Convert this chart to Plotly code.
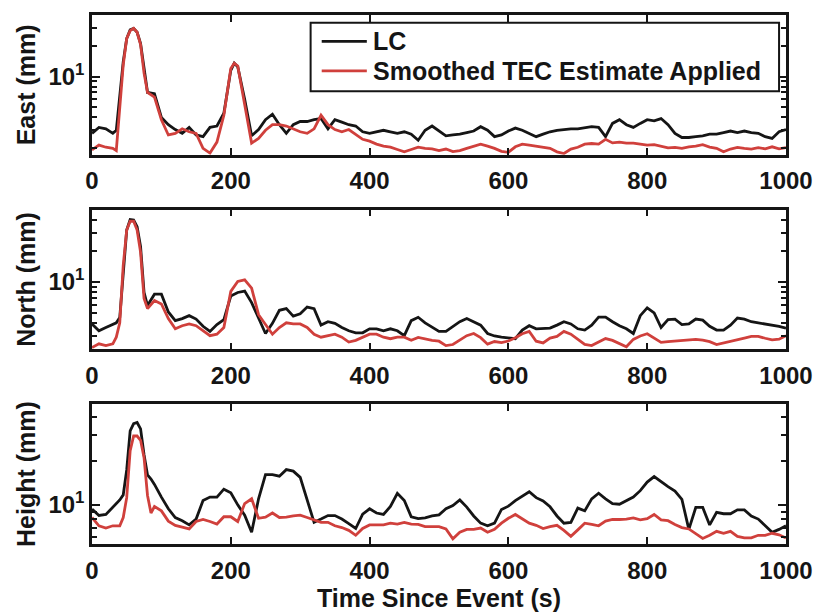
import plotly.graph_objects as go

# ---------------- data (mm) ----------------
t_tail = list(range(470, 1001, 10))

t_east = [0, 10, 20, 30, 35, 40, 45, 50, 55, 60, 65, 70, 75, 80, 90, 100, 110, 120, 130, 140, 150,
          160, 170, 180, 190, 200, 205, 210] + list(range(220, 461, 10)) + t_tail
east_lc = [2.8, 3.2, 3.1, 2.8, 3.0, 6.8, 14, 23.5, 28.5, 29.5, 27, 21, 11.5, 7, 6.8, 4.0, 3.4, 3.05, 2.8, 3.2, 2.7,
           2.6, 3.2, 3.3, 4.4, 11.5, 13.5, 12.5,
           6, 2.65, 3.05, 3.8, 4.3, 3.4, 2.8, 3.4, 3.65, 3.65, 3.8, 3.9, 3.1, 3.8, 3.6, 3.4, 3.3, 2.9, 2.8, 2.9, 3.0,
           2.9, 2.8, 2.9, 2.75,
           2.4, 3.0, 3.3, 2.97, 2.65, 2.7, 2.75, 2.85, 2.95, 3.25, 3.0, 2.6, 2.7, 2.95, 3.15, 3.0, 2.8, 2.6, 2.75,
           2.9, 3.0, 3.05, 3.1, 3.1, 3.2, 3.25, 3.2, 2.6, 3.5, 3.8, 3.4, 3.2, 3.5, 3.8, 3.7, 3.9, 3.4, 2.8, 2.55,
           2.55, 2.6, 2.65, 2.75, 2.75, 2.85, 2.95, 2.85, 2.95, 2.85, 2.8, 2.6, 2.5, 2.9, 3.05]
east_tec = [1.93, 2.15, 2.05, 2.0, 1.9, 5.5, 13, 23.5, 28, 29.5, 27, 20.5, 10.8, 7, 6.3, 3.8, 2.7, 2.8, 3.1, 2.9, 2.8,
            2.0, 1.8, 2.3, 4.2, 12, 13.5, 12.7,
            5.5, 2.25, 2.5, 3.0, 3.4, 3.4, 3.3, 3.1, 2.9, 2.8, 3.1, 4.2, 3.4, 3.05, 2.9, 3.05, 2.75, 2.45, 2.35, 2.2,
            2.1, 2.05, 1.95, 1.85, 1.95,
            2.05, 2.0, 1.98, 1.9, 1.97, 1.86, 1.9, 2.0, 2.1, 2.2, 2.1, 2.0, 1.87, 1.83, 2.07, 2.2, 2.15, 2.1, 2.07,
            2.0, 1.85, 1.78, 1.97, 2.05, 2.2, 2.23, 2.2, 2.45, 2.26, 2.3, 2.25, 2.25, 2.2, 2.15, 2.17, 2.08, 2.02,
            2.04, 2.0, 2.07, 2.1, 2.17, 2.06, 2.0, 1.85, 1.97, 2.04, 2.0, 1.97, 2.03, 1.98, 2.07, 1.98, 2.03]

t_north = [0, 10, 20, 30, 35, 40, 45, 50, 55, 60, 65, 70, 75, 80] + list(range(90, 461, 10)) + t_tail
north_lc = [3.9, 3.35, 3.6, 3.9, 4.0, 4.5, 11.5, 32, 40.5, 40, 34.5, 22, 7.9, 5.9,
            7.6, 7.6, 5.1, 4.2, 4.4, 4.7, 4.35, 3.7, 3.3, 3.85, 4.3, 7.3, 7.9, 8.15, 6.3, 4.4, 3.15, 3.95, 5.3,
            5.5, 4.65, 4.9, 5.7, 5.5, 3.8, 4.1, 3.95, 3.6, 3.35, 3.2, 3.2, 3.5, 3.5, 3.35, 3.5, 3.35, 3.0, 4.2,
            4.53, 4.0, 3.6, 3.3, 3.3, 3.65, 4.1, 4.4, 4.1, 3.8, 3.15, 2.98, 2.9, 2.85, 2.8, 3.4, 3.75, 3.5, 3.5,
            3.55, 3.8, 4.1, 3.9, 3.5, 3.4, 3.8, 4.55, 4.55, 4.1, 3.75, 3.5, 3.15, 4.7, 5.6, 5.0, 3.6, 4.3, 4.35,
            3.85, 3.9, 4.35, 4.25, 3.7, 3.4, 3.4, 3.8, 4.45, 4.35, 4.1, 4.0, 3.9, 3.8, 3.7, 3.55]
north_tec = [2.3, 2.5, 2.4, 2.5, 2.9, 4.0, 14.5, 32, 39, 39, 32, 19.4, 6.9, 5.5,
             6.6, 6.1, 4.4, 3.5, 3.75, 3.9, 3.75, 3.35, 3.0, 3.1, 3.6, 8.1, 10.1, 10.5, 8.7, 4.8, 3.9, 3.1, 3.6,
             4.0, 3.9, 3.9, 3.6, 3.1, 2.9, 3.0, 3.1, 2.9, 2.6, 2.7, 2.9, 3.1, 3.1, 2.9, 2.8, 2.9, 2.9, 2.71,
             2.88, 2.77, 2.7, 2.65, 2.4, 2.46, 2.72, 3.0, 3.15, 2.87, 2.48, 2.63, 2.57, 2.66, 2.86, 3.13, 3.3,
             2.65, 2.55, 2.84, 2.95, 3.3, 3.1, 2.78, 2.47, 2.4, 2.58, 2.81, 2.7, 2.52, 2.34, 2.76, 2.98, 3.13,
             2.83, 2.58, 2.63, 2.67, 2.67, 2.72, 2.76, 2.71, 2.62, 2.46, 2.56, 2.65, 2.74, 2.84, 2.95, 2.95,
             2.83, 2.73, 2.77, 3.0]

t_height = [0, 10, 20, 30, 40, 45, 50, 55, 60, 65, 70, 75, 80, 85] + list(range(90, 461, 10)) + t_tail
height_lc = [9.35, 8.47, 8.6, 9.7, 10.8, 11.7, 17.3, 32, 35.8, 36.5, 33, 22, 16, 15,
             13.8, 11.3, 9.4, 8.2, 7.8, 7.3, 8.0, 10.7, 11.3, 11.3, 12.8, 12.1, 10, 8.5, 6.5, 11, 16.1, 16.1,
             15.7, 17.4, 17, 15.4, 10.9, 7.6, 8.0, 8.45, 8.45, 8.0, 7.45, 6.9, 8.65, 9.4, 8.8, 8.6, 9.75, 12,
             10.7, 8.3,
             8.05, 8.15, 8.4, 8.55, 9.4, 9.9, 10.8, 9.65, 8.4, 7.5, 7.2, 7.5, 9.3, 9.8, 10.7, 11.4, 12.3, 11.2,
             10.65, 9.7, 8.4, 7.5, 7.6, 9.5, 9.1, 11.0, 12, 11, 10.2, 10.1, 10.75, 11.3, 12.5, 14.3, 15.6, 14.3,
             13.3, 12.4, 10.9, 6.8, 9.6, 9.6, 7.3, 8.9, 8.7, 8.7, 9.25, 9.25, 8.4, 8.0, 7.2, 6.5, 6.8, 7.2]
height_tec = [8.2, 7.2, 6.95, 7.2, 7.2, 8.2, 11.2, 23.4, 29.5, 29.5, 27.6, 21, 11.6, 8.8,
              9.75, 9.1, 7.75, 7.25, 7.05, 6.85, 7.7, 7.95, 7.7, 7.4, 8.3, 8.3, 7.7, 10.2, 11, 8.1, 8.25, 8.8,
              8.2, 8.25, 8.4, 8.5, 8.2, 7.85, 7.6, 7.6, 7.2, 7.0, 6.7, 6.2, 6.9, 7.3, 7.3, 7.3, 7.5, 7.4, 7.6,
              7.4,
              7.35, 7.1, 7.1, 7.1, 6.85, 5.86, 6.5, 6.8, 6.8, 6.95, 6.5, 6.8, 7.5, 8.1, 8.6, 8.05, 7.5, 7.25,
              6.9, 7.1, 7.25, 6.7, 6.1, 6.75, 7.5, 7.35, 7.2, 7.75, 7.95, 7.95, 8.0, 8.15, 7.9, 8.05, 8.6, 7.9,
              7.8, 7.35, 7.0, 6.85, 6.4, 5.9, 6.2, 6.6, 6.4, 6.6, 6.1, 5.95, 5.95, 6.2, 6.2, 6.4, 6.25, 5.95]

x_ticks = [0, 200, 400, 600, 800, 1000]
y_major = [10]
y_major_text = ["10<sup>1</sup>"]
y_minor = [2, 3, 4, 5, 6, 7, 8, 9, 20, 30, 40, 50]
series_names = ["LC", "Smoothed TEC Estimate Applied"]
panel_titles = ["East (mm)", "North (mm)", "Height (mm)"]
x_title = "Time Since Event (s)"

# ---------------- figure ----------------
BLACK = "#151515"
RED = "#d0403c"
FONT = "Liberation Sans, Arial, sans-serif"
series_colors = [BLACK, RED]

panels = [
    (t_east, east_lc, east_tec, [0.238, 1.60], [0.7357, 1.0]),
    (t_north, north_lc, north_tec, [0.343, 1.705], [0.3678, 0.6322]),
    (t_height, height_lc, height_tec, [0.733, 1.687], [0.0, 0.2643]),
]

fig = go.Figure()
layout = dict(
    width=825, height=613,
    paper_bgcolor="white", plot_bgcolor="white",
    margin=dict(l=92, r=35, t=14, b=58),
    showlegend=False,
    font=dict(family=FONT, color=BLACK, size=24, weight="bold"),
)

for i, (t, lc, tec, yr, dom) in enumerate(panels):
    n = "" if i == 0 else str(i + 1)
    xa, ya = "x" + n, "y" + n
    for name, vals, col in zip(series_names, [lc, tec], series_colors):
        fig.add_trace(go.Scatter(x=t, y=vals, mode="lines", name=name, xaxis=xa, yaxis=ya,
                                 line=dict(color=col, width=2.8)))
    xdict = dict(
        domain=[0, 1], anchor=ya, range=[0, 1000], tickvals=x_ticks,
        ticks="inside", ticklen=7, tickwidth=2, tickcolor=BLACK,
        showline=True, linewidth=2.5, linecolor=BLACK, mirror="ticks",
        showgrid=False, zeroline=False,
        tickfont=dict(family=FONT, size=24, color=BLACK, weight="bold"),
        ticklabelstandoff=3,
    )
    if i == 2:
        xdict["title"] = dict(text=x_title, font=dict(family=FONT, size=25, color=BLACK, weight="bold"),
                              standoff=0)
    layout["xaxis" + n] = xdict
    layout["yaxis" + n] = dict(
        domain=dom, anchor=xa, type="log", range=yr,
        tickvals=y_major, ticktext=y_major_text,
        ticks="inside", ticklen=8, tickwidth=2, tickcolor=BLACK,
        minor=dict(tickvals=y_minor, ticks="inside", ticklen=5, tickwidth=1.5, tickcolor=BLACK),
        showline=True, linewidth=2.5, linecolor=BLACK, mirror="ticks",
        showgrid=False, zeroline=False,
        tickfont=dict(family=FONT, size=24, color=BLACK, weight="bold"),
        title=dict(text=panel_titles[i], font=dict(family=FONT, size=25, color=BLACK, weight="bold"),
                   standoff=6),
    )

# ---- legend box drawn in the first panel (axis-domain coordinates) ----
leg_box = dict(x0=0.315, x1=0.990, y0=0.455, y1=0.944)
leg_rows = [0.811, 0.601]
shapes = [dict(type="rect", xref="x domain", yref="y domain", **leg_box,
               line=dict(color=BLACK, width=2), fillcolor="white", layer="above")]
annotations = []
for name, col, ry in zip(series_names, series_colors, leg_rows):
    shapes.append(dict(type="line", xref="x domain", yref="y domain", x0=0.331, x1=0.396, y0=ry, y1=ry,
                       line=dict(color=col, width=2.8), layer="above"))
    annotations.append(dict(xref="x domain", yref="y domain", x=0.404, y=ry, xanchor="left", yanchor="middle",
                            text=name, showarrow=False, borderpad=0,
                            font=dict(family=FONT, size=25, color=BLACK, weight="bold")))
layout["shapes"] = shapes
layout["annotations"] = annotations

fig.update_layout(**layout)
fig.write_html("out.html")
